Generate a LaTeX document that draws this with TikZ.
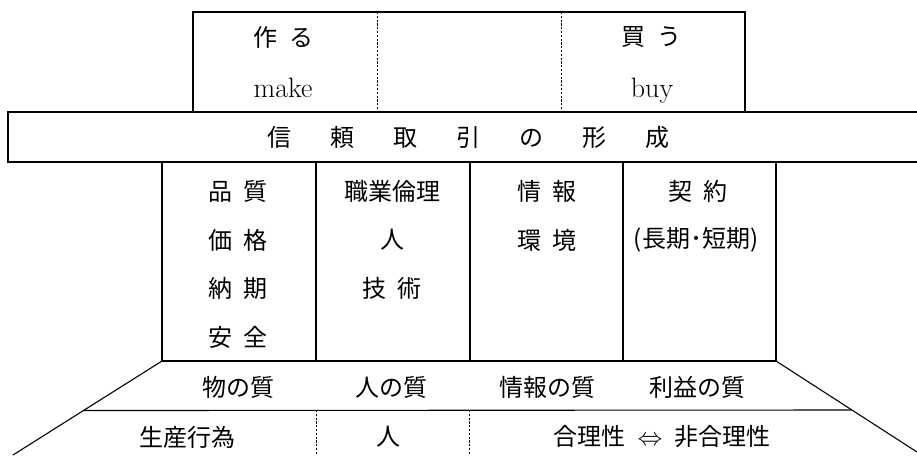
\documentclass[tikz,border=0pt]{standalone}
\usepackage{fontspec}
\newfontfamily\jp{Noto Sans CJK JP}
\usetikzlibrary{calc}
\begin{document}
\begin{tikzpicture}[x=1pt,y=-1pt,
  frame/.style={line width=1.2pt, line join=miter, line cap=rect},
  diag/.style={line width=1.1pt},
  dashline/.style={line width=0.7pt, dash pattern=on 2.2pt off 1.6pt},
  jt/.style={font=\jp\fontsize{24}{28}\selectfont, inner sep=0pt},
  lt/.style={font=\fontsize{28}{32}\selectfont, inner sep=0pt, anchor=base}]
\useasboundingbox (0,0) rectangle (917,455);
% ---- coordinates
\coordinate (tbL) at (193,112); \coordinate (tbLt) at (193,12);
\coordinate (tbR) at (745,112); \coordinate (tbRt) at (745,12);
\coordinate (bnTL) at (8,112);  \coordinate (bnBL) at (8,162);
\coordinate (bnTR) at (917,112); \coordinate (bnBR) at (917,162);
\coordinate (c0t) at (162,162); \coordinate (c0b) at (162,361);
\coordinate (c1t) at (316,162); \coordinate (c1b) at (316,361);
\coordinate (c2t) at (470,162); \coordinate (c2b) at (470,361);
\coordinate (c3t) at (623,162); \coordinate (c3b) at (623,361);
\coordinate (c4t) at (776,162); \coordinate (c4b) at (776,361);
\coordinate (dL) at (13,455);
\coordinate (dR) at (917,452);
\coordinate (hL) at ($(c0b)!0.5269!(dL)$);
\coordinate (hR) at ($(c4b)!0.5385!(dR)$);
% ---- top box
\draw[frame] (tbL) -- (tbLt) -- (tbRt) -- (tbR);
\draw[dashline] (377,12) coordinate (d1t) -- (377,112) coordinate (d1b);
\draw[dashline] (561,12) coordinate (d2t) -- (561,112) coordinate (d2b);
% ---- banner
\draw[frame] (bnTR) -- (bnTL) -- (bnBL) -- (bnBR);
% ---- columns
\draw[frame] (c0t) -- (c0b) -- (c4b) -- (c4t);
\draw[diag] (c1t) -- (c1b);
\draw[diag] (c2t) -- (c2b);
\draw[diag] (c3t) -- (c3b);
% ---- perspective floor
\draw[diag] (c0b) -- (dL);
\draw[diag] (c4b) -- (dR);
\draw[diag] (hL) -- (hR);
\draw[dashline] (316,410) coordinate (e1t) -- (316,455) coordinate (e1b);
\draw[dashline] (469,410) coordinate (e2t) -- (469,455) coordinate (e2b);
% ---- texts top box
\node[jt] (tsukuru) at (283,37) {作\hspace{12pt}る};
\node[lt] (make) at (283,97) {make};
\node[jt] (kau) at (651,37) {買\hspace{12pt}う};
\node[lt] (buy) at (652,97) {buy};
% ---- banner text
\node[jt] (banner) at (468,137) {信\hspace{39pt}頼\hspace{39pt}取\hspace{39pt}引\hspace{39pt}の\hspace{39pt}形\hspace{39pt}成};
% ---- column texts
\node[jt] (hinshitsu) at (238,191) {品\hspace{11pt}質};
\node[jt] (kakaku) at (238,240) {価\hspace{11pt}格};
\node[jt] (noki) at (238,288) {納\hspace{11pt}期};
\node[jt] (anzen) at (238,337) {安\hspace{11pt}全};
\node[jt] (shokugyo) at (392,191) {職業倫理};
\node[jt] (hito1) at (392,240) {人};
\node[jt] (gijutsu) at (392,288) {技\hspace{11pt}術};
\node[jt] (joho) at (547,191) {情\hspace{11pt}報};
\node[jt] (kankyo) at (547,240) {環\hspace{11pt}境};
\node[jt] (keiyaku) at (698,191) {契\hspace{11pt}約};
\node[jt] (kikan) at (696,240) {(長期･短期)};
% ---- quality row
\node[jt] (mono) at (238,387) {物の質};
\node[jt] (hitoq) at (391,387) {人の質};
\node[jt] (johoq) at (547,387) {情報の質};
\node[jt] (rieki) at (697,387) {利益の質};
% ---- bottom row
\node[jt] (seisan) at (187,437) {生産行為};
\node[jt] (hito2) at (388,437) {人};
\node[jt] (gori) at (662,437) {合理性\hspace{12pt}$\Leftrightarrow$\hspace{12pt}非合理性};
\end{tikzpicture}
\end{document}
